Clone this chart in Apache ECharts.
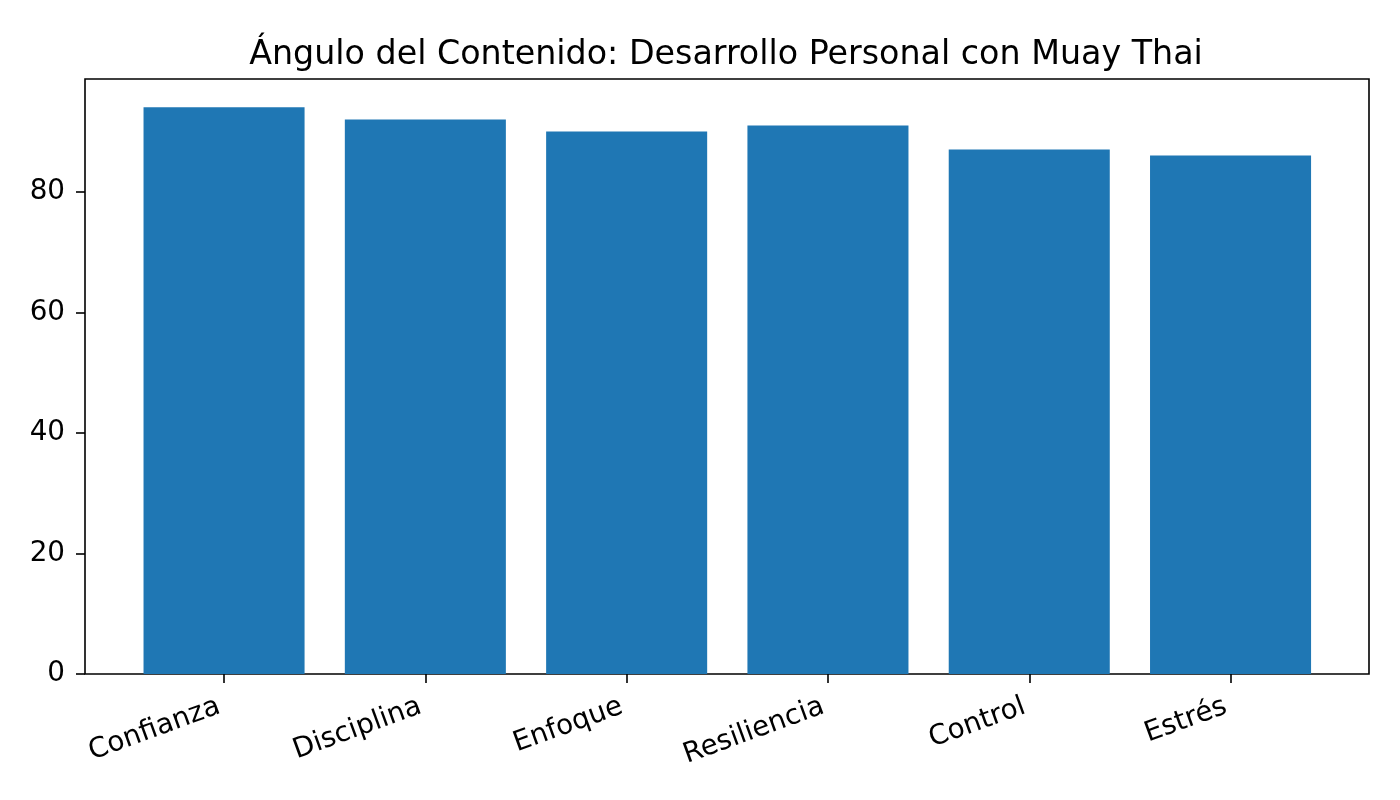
<!DOCTYPE html>
<html>
<head>
<meta charset="utf-8">
<script src="https://cdn.jsdelivr.net/npm/echarts@6/dist/echarts.min.js"></script>
<style>
html, body { margin: 0; padding: 0; background: #fff; }
#main { width: 1400px; height: 800px; }
</style>
</head>
<body>
<div id="main"></div>
<script>
var titulo = 'Ángulo del Contenido: Desarrollo Personal con Muay Thai';
var categorias = ['Confianza', 'Disciplina', 'Enfoque', 'Resiliencia', 'Control', 'Estrés'];
var valores = [94, 92, 90, 91, 87, 86];
var yTicks = [0, 20, 40, 60, 80];
var yMax = 98.7;

var fuente = 'DejaVu Sans';

var option = {
    backgroundColor: '#ffffff',
    animation: false,
    title: {
        text: titulo,
        left: 721,
        top: 34,
        textAlign: 'center',
        textStyle: {
            fontFamily: fuente,
            fontSize: 33.3,
            fontWeight: 'normal',
            color: '#000'
        }
    },
    grid: [
        // marco del eje
        { left: 85, right: 31, top: 79, bottom: 126, show: true, borderColor: '#000', borderWidth: 1.6, backgroundColor: 'transparent' },
        // zona de barras (margenes tipo matplotlib)
        { left: 123.4, right: 68.8, top: 79, bottom: 126 }
    ],
    xAxis: [{
        gridIndex: 0,
        type: 'value',
        min: 0,
        max: 1,
        axisLine: { show: false },
        axisTick: { show: false },
        axisLabel: { show: false },
        splitLine: { show: false }
    }, {
        gridIndex: 1,
        type: 'category',
        data: categorias,
        axisLine: { show: false },
        axisTick: {
            show: true,
            alignWithLabel: true,
            length: 9,
            lineStyle: { color: '#000', width: 1.6 }
        },
        axisLabel: {
            rotate: 20,
            margin: 30,
            interval: 0,
            padding: [0, 5, 0, 0],
            fontFamily: fuente,
            fontSize: 27.8,
            color: '#000'
        },
        splitLine: { show: false }
    }],
    yAxis: [{
        gridIndex: 0,
        type: 'value',
        min: 0,
        max: yMax,
        axisLine: { show: false },
        axisTick: {
            show: true,
            length: 9,
            customValues: yTicks,
            lineStyle: { color: '#000', width: 1.6 }
        },
        axisLabel: {
            customValues: yTicks,
            margin: 20,
            fontFamily: fuente,
            fontSize: 27.8,
            color: '#000'
        },
        splitLine: { show: false }
    }, {
        gridIndex: 1,
        type: 'value',
        min: 0,
        max: yMax,
        show: false,
        splitLine: { show: false }
    }],
    series: [{
        name: titulo,
        type: 'bar',
        xAxisIndex: 1,
        yAxisIndex: 1,
        barWidth: '80%',
        data: valores,
        itemStyle: { color: '#1f77b4' }
    }]
};

var chart = echarts.init(document.getElementById('main'));
chart.setOption(option);
</script>
</body>
</html>
